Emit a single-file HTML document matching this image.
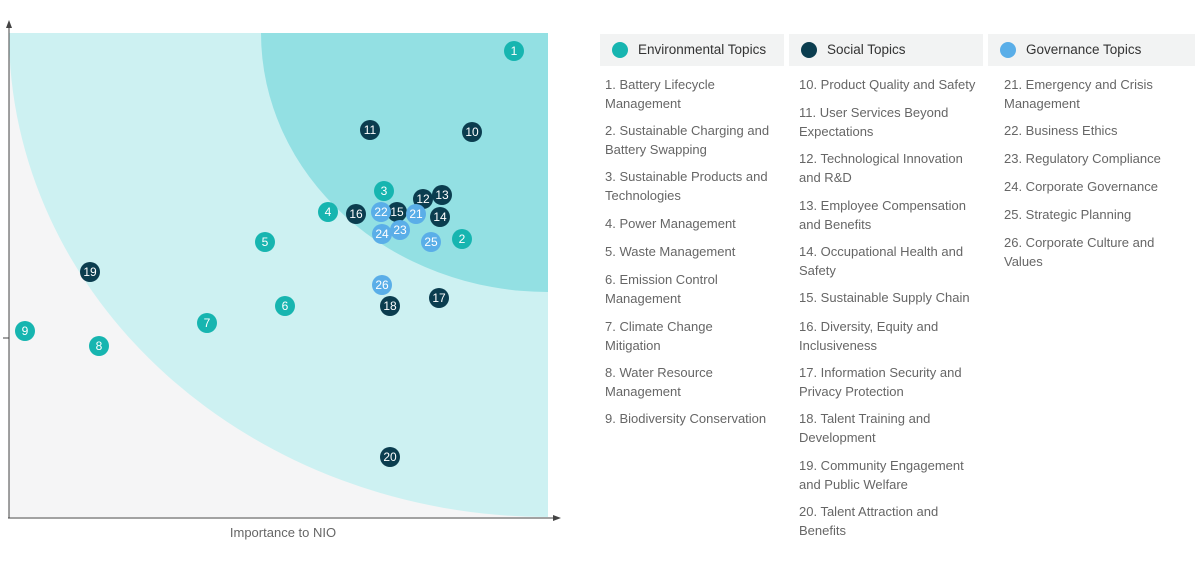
<!DOCTYPE html>
<html><head><style>
body{margin:0;width:1200px;height:567px;background:#fff;font-family:"Liberation Sans",sans-serif;position:relative;overflow:hidden}
.h{position:absolute;top:34px;height:32px;background:#f2f3f3;font-size:13.5px;color:#333;line-height:32px}
.h i{position:absolute;left:12px;top:8px;width:16px;height:16px;border-radius:50%}
.h span{position:absolute;left:38px}
.it{position:absolute;font-size:13px;color:#666;line-height:18.5px;width:190px}
</style></head><body>
<svg width="600" height="567" style="position:absolute;left:0;top:0">
<rect x="9" y="33" width="539" height="484" fill="#f5f5f6"/>
<path d="M9 33 A539 484 0 0 0 548 517 L548 33 Z" fill="#cdf1f2"/>
<path d="M261 33 A287 259 0 0 0 548 292 L548 33 Z" fill="#93e0e3"/>
<line x1="9" y1="24" x2="9" y2="518" stroke="#444" stroke-width="1"/>
<line x1="8" y1="518" x2="556" y2="518" stroke="#444" stroke-width="1"/>
<path d="M9 20 L6 28 L12 28Z" fill="#444"/>
<path d="M561 518 L553 515 L553 521Z" fill="#444"/>
<line x1="3" y1="338" x2="9" y2="338" stroke="#444"/>
<text x="283" y="537" font-size="13" fill="#666" text-anchor="middle" font-family="Liberation Sans">Importance to NIO</text>
<g font-size="12" fill="#fff" text-anchor="middle" font-family="Liberation Sans">
<g fill="#17b5b0"><circle cx="514" cy="51" r="10"/><circle cx="384" cy="191" r="10"/><circle cx="328" cy="212" r="10"/><circle cx="462" cy="239" r="10"/><circle cx="265" cy="242" r="10"/><circle cx="285" cy="306" r="10"/><circle cx="207" cy="323" r="10"/><circle cx="25" cy="331" r="10"/><circle cx="99" cy="346" r="10"/></g>
<g fill="#0b3d4f"><circle cx="370" cy="130" r="10"/><circle cx="472" cy="132" r="10"/><circle cx="423" cy="199" r="10"/><circle cx="442" cy="195" r="10"/><circle cx="356" cy="214" r="10"/><circle cx="440" cy="217" r="10"/><circle cx="90" cy="272" r="10"/><circle cx="390" cy="306" r="10"/><circle cx="439" cy="298" r="10"/><circle cx="390" cy="457" r="10"/><circle cx="397" cy="212" r="10"/></g>
<g fill="#5aaee8"><circle cx="381" cy="212" r="10"/><circle cx="416" cy="214" r="10"/><circle cx="382" cy="234" r="10"/><circle cx="400" cy="230" r="10"/><circle cx="431" cy="242" r="10"/><circle cx="382" cy="285" r="10"/></g>
<text x="514" y="55">1</text><text x="384" y="195">3</text><text x="328" y="216">4</text><text x="462" y="243">2</text><text x="265" y="246">5</text><text x="285" y="310">6</text><text x="207" y="327">7</text><text x="25" y="335">9</text><text x="99" y="350">8</text>
<text x="370" y="134">11</text><text x="472" y="136">10</text><text x="423" y="203">12</text><text x="442" y="199">13</text><text x="356" y="218">16</text><text x="440" y="221">14</text><text x="90" y="276">19</text><text x="390" y="310">18</text><text x="439" y="302">17</text><text x="390" y="461">20</text>
<text x="381" y="216">22</text><text x="397" y="216">15</text><text x="416" y="218">21</text><text x="382" y="238">24</text><text x="400" y="234">23</text><text x="431" y="246">25</text><text x="382" y="289">26</text>
</g></svg>
<div class="h" style="left:600px;width:184px"><i style="background:#17b5b0"></i><span>Environmental Topics</span></div>
<div class="h" style="left:789px;width:194px"><i style="background:#0b3d4f"></i><span>Social Topics</span></div>
<div class="h" style="left:988px;width:207px"><i style="background:#5aaee8"></i><span>Governance Topics</span></div>
<div class="it" style="left:605px;top:76px">1. Battery Lifecycle<br>Management</div>
<div class="it" style="left:605px;top:122px">2. Sustainable Charging and<br>Battery Swapping</div>
<div class="it" style="left:605px;top:168px">3. Sustainable Products and<br>Technologies</div>
<div class="it" style="left:605px;top:215px">4. Power Management</div>
<div class="it" style="left:605px;top:243px">5. Waste Management</div>
<div class="it" style="left:605px;top:271px">6. Emission Control<br>Management</div>
<div class="it" style="left:605px;top:318px">7. Climate Change<br>Mitigation</div>
<div class="it" style="left:605px;top:364px">8. Water Resource<br>Management</div>
<div class="it" style="left:605px;top:410px">9. Biodiversity Conservation</div>
<div class="it" style="left:799px;top:76px">10. Product Quality and Safety</div>
<div class="it" style="left:799px;top:104px">11. User Services Beyond<br>Expectations</div>
<div class="it" style="left:799px;top:150px">12. Technological Innovation<br>and R&amp;D</div>
<div class="it" style="left:799px;top:197px">13. Employee Compensation<br>and Benefits</div>
<div class="it" style="left:799px;top:243px">14. Occupational Health and<br>Safety</div>
<div class="it" style="left:799px;top:289px">15. Sustainable Supply Chain</div>
<div class="it" style="left:799px;top:318px">16. Diversity, Equity and<br>Inclusiveness</div>
<div class="it" style="left:799px;top:364px">17. Information Security and<br>Privacy Protection</div>
<div class="it" style="left:799px;top:410px">18. Talent Training and<br>Development</div>
<div class="it" style="left:799px;top:457px">19. Community Engagement<br>and Public Welfare</div>
<div class="it" style="left:799px;top:503px">20. Talent Attraction and<br>Benefits</div>
<div class="it" style="left:1004px;top:76px">21. Emergency and Crisis<br>Management</div>
<div class="it" style="left:1004px;top:122px">22. Business Ethics</div>
<div class="it" style="left:1004px;top:150px">23. Regulatory Compliance</div>
<div class="it" style="left:1004px;top:178px">24. Corporate Governance</div>
<div class="it" style="left:1004px;top:206px">25. Strategic Planning</div>
<div class="it" style="left:1004px;top:234px">26. Corporate Culture and<br>Values</div>
</body></html>
